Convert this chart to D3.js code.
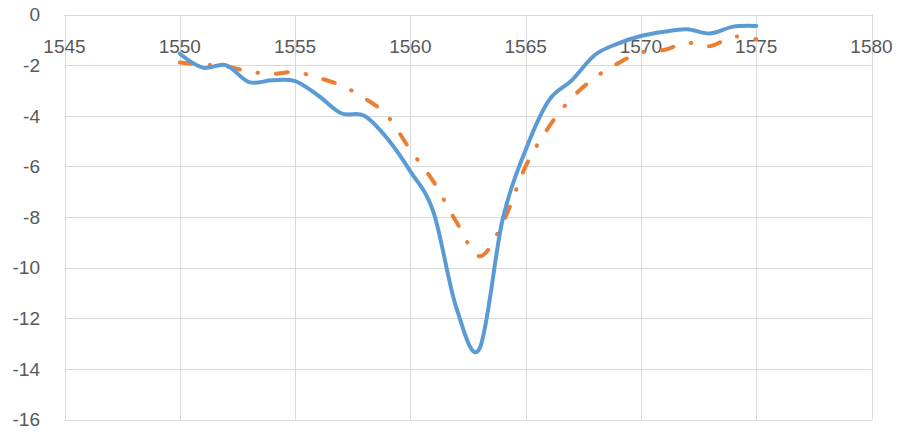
<!DOCTYPE html>
<html>
<head>
<meta charset="utf-8">
<script src="https://cdn.jsdelivr.net/npm/d3@7"></script>
<style>
  body { margin: 0; background: #fff; }
  svg { display: block; }
  .tick-label { font-family: "Liberation Sans", Arial, sans-serif; font-size: 19px; fill: #595959; }
</style>
</head>
<body>
<svg id="chart" width="901" height="435"></svg>
<script>
// wavelength (nm)
var wavelengths = [1550, 1551, 1552, 1553, 1554, 1555, 1556, 1557, 1558, 1559, 1560, 1561, 1562,
                   1563, 1564, 1565, 1566, 1567, 1568, 1569, 1570, 1571, 1572, 1573, 1574, 1575];
// measured (blue, solid)
var seriesBlue = [-1.55, -2.1, -2.0, -2.67, -2.6, -2.63, -3.2, -3.9, -4.0, -4.9, -6.2, -7.8, -11.6,
                  -13.2, -8.1, -5.35, -3.4, -2.6, -1.6, -1.15, -0.85, -0.68, -0.58, -0.75, -0.48, -0.45];
// simulated (orange, dash-dot)
var seriesOrange = [-1.9, -1.98, -2.05, -2.25, -2.35, -2.27, -2.5, -2.8, -3.3, -4.0, -5.35, -6.6, -8.2,
                    -9.55, -8.25, -6.0, -4.45, -3.3, -2.5, -1.93, -1.5, -1.4, -1.12, -1.25, -0.88, -0.98];
var xTicks = [1545, 1550, 1555, 1560, 1565, 1570, 1575, 1580];
var yTicks = [0, -2, -4, -6, -8, -10, -12, -14, -16];

var svg = d3.select('#chart');

var x = d3.scaleLinear().domain([1545, 1580]).range([64.5, 871.5]);
var y = d3.scaleLinear().domain([0, -16]).range([14.5, 419.5]);

// grid
var grid = svg.append('g');
grid.selectAll('line.h').data(yTicks).enter().append('line')
    .attr('x1', x(1545)).attr('x2', x(1580))
    .attr('y1', function(d){ return Math.round(y(d)) + 0.5; })
    .attr('y2', function(d){ return Math.round(y(d)) + 0.5; })
    .attr('stroke', '#d9d9d9').attr('stroke-width', 1);
grid.selectAll('line.v').data(xTicks).enter().append('line')
    .attr('y1', y(0)).attr('y2', y(-16))
    .attr('x1', function(d){ return Math.round(x(d)) + 0.5; })
    .attr('x2', function(d){ return Math.round(x(d)) + 0.5; })
    .attr('stroke', '#d9d9d9').attr('stroke-width', 1);

// y labels
svg.append('g').selectAll('text').data(yTicks).enter().append('text')
    .attr('class', 'tick-label')
    .attr('x', 40).attr('y', function(d){ return y(d); })
    .attr('dy', '0.36em')
    .attr('text-anchor', 'end')
    .text(function(d){ return d; });

// x labels (axis crosses at y = 0)
svg.append('g').selectAll('text').data(xTicks).enter().append('text')
    .attr('class', 'tick-label')
    .attr('x', function(d){ return x(d); }).attr('y', 53)
    .attr('text-anchor', 'middle')
    .text(function(d){ return d; });

var line = function(vals) {
    return d3.line()
        .x(function(d, i){ return x(wavelengths[i]); })
        .y(function(d){ return y(d); })
        .curve(d3.curveCardinal.tension(0))(vals);
};

svg.append('path')
    .attr('d', line(seriesOrange))
    .attr('fill', 'none')
    .attr('stroke', '#ed7d31')
    .attr('stroke-width', 4)
    .attr('stroke-linecap', 'round')
    .attr('stroke-dasharray', '12,18,0.5,18');

svg.append('path')
    .attr('d', line(seriesBlue))
    .attr('fill', 'none')
    .attr('stroke', '#5b9bd5')
    .attr('stroke-width', 4)
    .attr('stroke-linecap', 'round');
</script>
</body>
</html>
